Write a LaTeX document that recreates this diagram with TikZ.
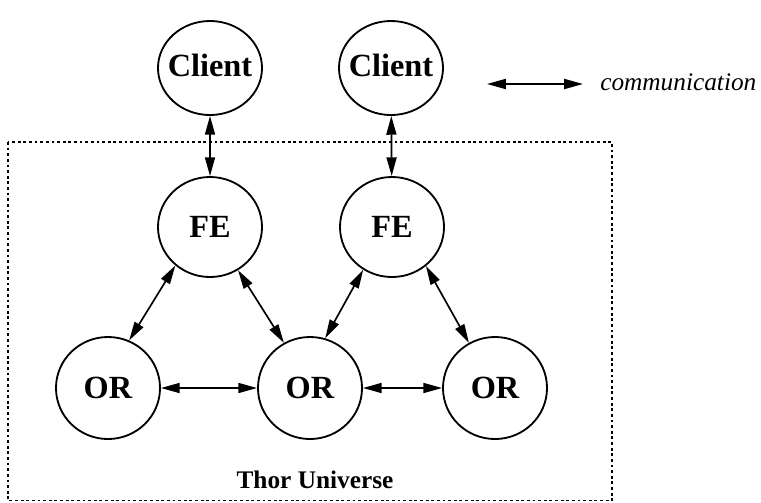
\documentclass[tikz,border=0pt]{standalone}
\usepackage{fontspec}
\setmainfont{Liberation Serif}
\usetikzlibrary{positioning}
\usetikzlibrary{shapes,arrows.meta}
\tikzset{
peer/.style = {draw, ellipse, line width=1.3pt, inner sep=0pt, minimum width=2.6cm, minimum height=2.55cm, font=\fontsize{23}{27}\selectfont\bfseries},
link/.style = {<->, line width=1.2pt},
universe/.style = {draw, dash pattern=on 2pt off 2pt, line width=0.9pt},
title/.style = {anchor=base, inner sep=0pt, font=\fontsize{18}{22}\selectfont\bfseries},
legend/.style = {anchor=base west, inner sep=0pt, font=\fontsize{18}{22}\selectfont\itshape}
}
\newcommand{\peertext}[1]{\makebox[0pt]{#1}}

\begin{document}
\begin{tikzpicture}[x=0.025cm, y=-0.025cm, >={Triangle[length=0.47cm,width=0.25cm]}]
    \useasboundingbox (0,0) rectangle (761,502);
    % We start by placing the nodes
    \node [peer, minimum height=2.35cm] (client1) at (210,68) {\peertext{\raisebox{4pt}{Client}}};
    \node [peer, minimum height=2.35cm] (client2) at (391,68) {\peertext{\raisebox{4pt}{Client}}};
    \node [peer, minimum height=2.5cm] (fe1) at (210,227) {\peertext{FE}};
    \node [peer, minimum height=2.5cm] (fe2) at (392,227) {\peertext{FE}};
    \node [peer] (or1) at (108,388) {\peertext{OR}};
    \node [peer] (or2) at (310,388) {\peertext{OR}};
    \node [peer] (or3) at (495,388) {\peertext{OR}};

    % the universe box
    \coordinate (boxnw) at (8,142);
    \coordinate (boxse) at (612,500.5);
    \draw [universe] (boxnw) rectangle (boxse);
    \node [title] (thor) at (315,488) {Thor Universe};

    % the links
    \draw [link] (client1) -- (fe1);
    \draw [link] (client2) -- (fe2);
    \draw [link] (fe1.228) -- (or1.66);
    \draw [link] (fe1.303) -- (or2.120);
    \draw [link] (fe2.236) -- (or2.73);
    \draw [link] (fe2.311) -- (or3.120);
    \draw [link] (or1) -- (or2);
    \draw [link] (or2) -- (or3);

    % the legend
    \coordinate (legw) at (487,84);
    \coordinate (lege) at (583,84);
    \draw [link] (legw) -- (lege);
    \node [legend] (comm) at (600,90) {communication};
\end{tikzpicture}
\end{document}
